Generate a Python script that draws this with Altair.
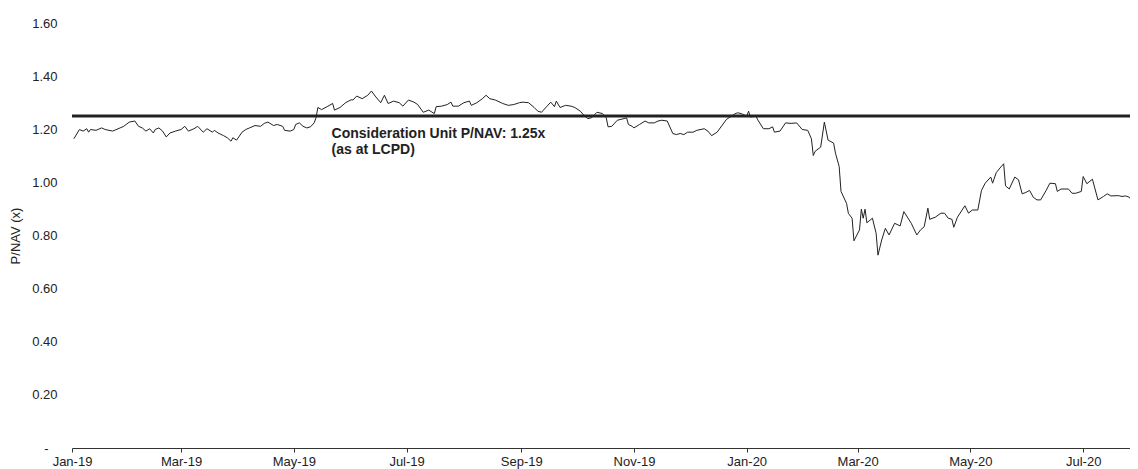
import altair as alt
import pandas as pd

dates = [
    "2019-01-02", "2019-01-05", "2019-01-07", "2019-01-09", "2019-01-10", "2019-01-11", "2019-01-14",
    "2019-01-17", "2019-01-19", "2019-01-23", "2019-01-27", "2019-01-29", "2019-02-01", "2019-02-04",
    "2019-02-06", "2019-02-08", "2019-02-10", "2019-02-12", "2019-02-14", "2019-02-15", "2019-02-17",
    "2019-02-19", "2019-02-21", "2019-02-23", "2019-02-26", "2019-03-01", "2019-03-03", "2019-03-05",
    "2019-03-08", "2019-03-10", "2019-03-13", "2019-03-15", "2019-03-18", "2019-03-19", "2019-03-21",
    "2019-03-24", "2019-03-26", "2019-03-28", "2019-03-29", "2019-03-31", "2019-04-03", "2019-04-05",
    "2019-04-07", "2019-04-10", "2019-04-13", "2019-04-15", "2019-04-17", "2019-04-20", "2019-04-22",
    "2019-04-25", "2019-04-26", "2019-04-29", "2019-05-01", "2019-05-02", "2019-05-04", "2019-05-06",
    "2019-05-08", "2019-05-10", "2019-05-12", "2019-05-13", "2019-05-14", "2019-05-16", "2019-05-19",
    "2019-05-22", "2019-05-23", "2019-05-26", "2019-05-29", "2019-06-01", "2019-06-02", "2019-06-04",
    "2019-06-07", "2019-06-10", "2019-06-12", "2019-06-14", "2019-06-17", "2019-06-19", "2019-06-21",
    "2019-06-24", "2019-06-27", "2019-06-29", "2019-07-02", "2019-07-05", "2019-07-07", "2019-07-10",
    "2019-07-13", "2019-07-16", "2019-07-17", "2019-07-20", "2019-07-23", "2019-07-25", "2019-07-26",
    "2019-07-29", "2019-08-01", "2019-08-04", "2019-08-05", "2019-08-08", "2019-08-11", "2019-08-13",
    "2019-08-15", "2019-08-18", "2019-08-22", "2019-08-25", "2019-08-28", "2019-08-31", "2019-09-02",
    "2019-09-05", "2019-09-08", "2019-09-10", "2019-09-12", "2019-09-15", "2019-09-17", "2019-09-19",
    "2019-09-20", "2019-09-22", "2019-09-25", "2019-09-28", "2019-09-30", "2019-10-03", "2019-10-05",
    "2019-10-07", "2019-10-09", "2019-10-12", "2019-10-15", "2019-10-17", "2019-10-18", "2019-10-20",
    "2019-10-23", "2019-10-26", "2019-10-28", "2019-10-29", "2019-10-31", "2019-11-01", "2019-11-04",
    "2019-11-07", "2019-11-09", "2019-11-12", "2019-11-14", "2019-11-16", "2019-11-19", "2019-11-22",
    "2019-11-24", "2019-11-26", "2019-11-28", "2019-11-30", "2019-12-03", "2019-12-05", "2019-12-09",
    "2019-12-11", "2019-12-13", "2019-12-16", "2019-12-21", "2019-12-23", "2019-12-25", "2019-12-27",
    "2019-12-29", "2020-01-01", "2020-01-02", "2020-01-03", "2020-01-06", "2020-01-07", "2020-01-10",
    "2020-01-13", "2020-01-15", "2020-01-16", "2020-01-19", "2020-01-22", "2020-01-25", "2020-01-28",
    "2020-01-31", "2020-02-03", "2020-02-05", "2020-02-06", "2020-02-07", "2020-02-10", "2020-02-12",
    "2020-02-14", "2020-02-17", "2020-02-18", "2020-02-20", "2020-02-21", "2020-02-24", "2020-02-25",
    "2020-02-27", "2020-02-28", "2020-03-02", "2020-03-03", "2020-03-04", "2020-03-05", "2020-03-06",
    "2020-03-09", "2020-03-11", "2020-03-12", "2020-03-14", "2020-03-16", "2020-03-18", "2020-03-21",
    "2020-03-24", "2020-03-26", "2020-03-30", "2020-04-02", "2020-04-04", "2020-04-06", "2020-04-08",
    "2020-04-09", "2020-04-12", "2020-04-15", "2020-04-17", "2020-04-19", "2020-04-21", "2020-04-22",
    "2020-04-24", "2020-04-28", "2020-04-30", "2020-05-02", "2020-05-05", "2020-05-07", "2020-05-09",
    "2020-05-12", "2020-05-13", "2020-05-15", "2020-05-17", "2020-05-19", "2020-05-20", "2020-05-22",
    "2020-05-25", "2020-05-27", "2020-05-29", "2020-05-31", "2020-06-02", "2020-06-04", "2020-06-06",
    "2020-06-08", "2020-06-11", "2020-06-13", "2020-06-16", "2020-06-17", "2020-06-19", "2020-06-23",
    "2020-06-25", "2020-06-27", "2020-06-30", "2020-07-01", "2020-07-03", "2020-07-06", "2020-07-09",
    "2020-07-12", "2020-07-14", "2020-07-16", "2020-07-20", "2020-07-22", "2020-07-24", "2020-07-26",
    "2020-07-27", "2020-07-29",
]

pnav = [
    1.164, 1.199, 1.193, 1.202, 1.189, 1.199, 1.196,
    1.205, 1.199, 1.193, 1.205, 1.211, 1.227, 1.231,
    1.211, 1.205, 1.193, 1.202, 1.186, 1.199, 1.205,
    1.193, 1.171, 1.186, 1.193, 1.199, 1.211, 1.193,
    1.202, 1.211, 1.189, 1.202, 1.189, 1.196, 1.186,
    1.176, 1.168, 1.155, 1.168, 1.159, 1.189, 1.199,
    1.205, 1.214, 1.211, 1.222, 1.227, 1.214, 1.218,
    1.211, 1.196, 1.193, 1.199, 1.218, 1.224, 1.211,
    1.205, 1.209, 1.224, 1.243, 1.282, 1.274, 1.285,
    1.297, 1.272, 1.282, 1.300, 1.311, 1.310, 1.325,
    1.315, 1.328, 1.344, 1.325, 1.300, 1.328, 1.297,
    1.306, 1.300, 1.287, 1.310, 1.302, 1.293, 1.264,
    1.272, 1.259, 1.285, 1.287, 1.293, 1.302, 1.287,
    1.287, 1.300, 1.306, 1.290, 1.300, 1.315, 1.328,
    1.315, 1.310, 1.297, 1.290, 1.293, 1.300, 1.302,
    1.300, 1.282, 1.268, 1.264, 1.287, 1.302, 1.285,
    1.306, 1.282, 1.290, 1.287, 1.282, 1.268, 1.252,
    1.240, 1.243, 1.264, 1.259, 1.243, 1.209, 1.211,
    1.234, 1.239, 1.243, 1.218, 1.211, 1.205, 1.218,
    1.231, 1.224, 1.224, 1.231, 1.234, 1.231, 1.184,
    1.180, 1.184, 1.180, 1.189, 1.189, 1.196, 1.202,
    1.193, 1.176, 1.189, 1.237, 1.246, 1.256, 1.262,
    1.259, 1.249, 1.268, 1.246, 1.249, 1.235, 1.202,
    1.202, 1.209, 1.189, 1.193, 1.224, 1.222, 1.224,
    1.199, 1.196, 1.164, 1.101, 1.117, 1.133, 1.227,
    1.159, 1.148, 1.110, 1.060, 0.966, 0.921, 0.883,
    0.865, 0.780, 0.821, 0.899, 0.865, 0.899, 0.848,
    0.865, 0.808, 0.726, 0.783, 0.827, 0.802, 0.846,
    0.836, 0.890, 0.846, 0.802, 0.821, 0.833, 0.903,
    0.861, 0.869, 0.884, 0.884, 0.865, 0.861, 0.831,
    0.869, 0.912, 0.884, 0.896, 0.896, 0.970, 0.997,
    1.020, 0.997, 1.037, 1.054, 1.070, 0.987, 0.975,
    1.020, 1.010, 0.957, 0.962, 0.970, 0.944, 0.934,
    0.934, 0.970, 0.997, 0.995, 0.966, 0.975, 0.975,
    0.959, 0.959, 0.966, 1.022, 0.995, 1.012, 0.934,
    0.947, 0.957, 0.949, 0.950, 0.947, 0.949, 0.944,
    0.934, 0.937,
]

consideration_value = 1.25
annotation_date = "2019-05-21T10:00:00"
annotation_lines = ["Consideration Unit P/NAV: 1.25x", "(as at LCPD)"]
x_start, x_end = "2019-01-01T00:00:00", "2020-07-26T08:00:00"
tick_dates = ["2019-01-01", "2019-03-01", "2019-05-01", "2019-07-01", "2019-09-01",
              "2019-11-01", "2020-01-01", "2020-03-01", "2020-05-01", "2020-07-01"]
y_ticks = [0, 0.2, 0.4, 0.6, 0.8, 1.0, 1.2, 1.4, 1.6]

FONT = "Liberation Sans"
INK = "#222222"

df = pd.DataFrame({"date": pd.to_datetime(dates), "pnav": pnav})

x_scale = alt.Scale(domain=[pd.Timestamp(x_start).isoformat(), pd.Timestamp(x_end).isoformat()], nice=False)
y_scale = alt.Scale(domain=[0, 1.6], nice=False)

PLOT_H = 425

x_axis = alt.Axis(
    title=None,
    values=[pd.Timestamp(d).isoformat() for d in tick_dates],
    format="%b-%y",
    labelFont=FONT, labelFontSize=13, labelColor=INK,
    labelFlush=False, labelOverlap=False,
    domainColor="#333333", domainWidth=1.2,
    tickColor="#333333", tickSize=4, tickWidth=1,
    labelPadding=3, grid=False,
)
y_axis = alt.Axis(
    title="P/NAV (x)",
    values=y_ticks,
    labelExpr="datum.value == 0 ? '-' : format(datum.value, '.2f')",
    labelFont=FONT, labelFontSize=13, labelColor=INK,
    labelPadding={"condition": {"test": "datum.value === 0", "value": 24}, "value": 15},
    titleFont=FONT, titleFontSize=13, titleFontWeight="normal", titleColor=INK,
    titleX=-57, titleY=PLOT_H / 2, titleAngle=270, titleAlign="center", titleBaseline="middle",
    domain=False, ticks=False, tickSize=0, grid=False,
)

line = alt.Chart(df).mark_line(color=INK, strokeWidth=1, interpolate="linear", clip=True).encode(
    x=alt.X("date:T", scale=x_scale, axis=x_axis),
    y=alt.Y("pnav:Q", scale=y_scale, axis=y_axis),
)

ref_df = pd.DataFrame({"v": [consideration_value]})
rule = alt.Chart(ref_df).mark_rule(color=INK, strokeWidth=3).encode(
    y=alt.Y("v:Q", scale=y_scale),
)

ann_df = pd.DataFrame({"date": [pd.Timestamp(annotation_date)], "v": [consideration_value],
                       "label": [annotation_lines]})
ann = alt.Chart(ann_df).mark_text(
    align="left", baseline="alphabetic", dy=22, font=FONT, fontSize=14, fontWeight="bold",
    color=INK, lineHeight=16,
).encode(
    x=alt.X("date:T", scale=x_scale),
    y=alt.Y("v:Q", scale=y_scale),
    text="label",
)

chart = alt.layer(line, rule, ann).properties(
    width=1058, height=PLOT_H,
    autosize=alt.AutoSizeParams(type="none"),
    padding={"left": 64, "top": 15, "right": 0, "bottom": 21},
).configure(background="white").configure_view(stroke=None)

chart.save("out.html", embed_options={"renderer": "svg", "actions": False})
